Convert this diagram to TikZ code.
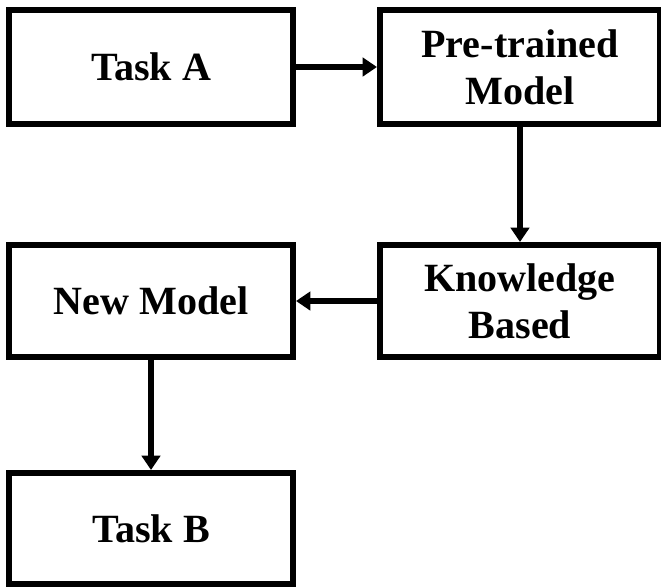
\documentclass[tikz,border=0pt]{standalone}
\usepackage{fontspec}
\setmainfont{Liberation Serif}
\usetikzlibrary{arrows.meta}

\begin{document}
\begin{tikzpicture}[black,
	box/.style={draw, line width=4.3pt, align=center,
		font=\fontsize{28.5}{33.5}\selectfont\bfseries,
		minimum width=7.1cm, minimum height=2.85cm, inner sep=0pt},
	link/.style={line width=3.6pt, -{Triangle[length=3.6mm,width=4.6mm]}}]
	
	% Frame
	\useasboundingbox (0,0) rectangle (16.525,-14.65);
	
	% Upper row
	\node[box] (taskA) at (3.775,-1.675) {Task A};
	\node[box, minimum width=7cm] (pretrained) at (13,-1.675) {Pre-trained\\Model};
	
	% Middle row
	\node[box, minimum height=2.8cm] (newmodel) at (3.775,-7.525) {New Model};
	\node[box, minimum width=7cm, minimum height=2.8cm] (knowledge) at (13,-7.525) {Knowledge\\Based};
	
	% Lower row
	\node[box, minimum height=2.775cm] (taskB) at (3.775,-13.2125) {Task B};
	
	% Arrows
	\draw[link] (taskA) -- (pretrained);
	\draw[link] (pretrained) -- (knowledge);
	\draw[link] (knowledge) -- (newmodel);
	\draw[link] (newmodel) -- (taskB);
	
\end{tikzpicture}
\end{document}
